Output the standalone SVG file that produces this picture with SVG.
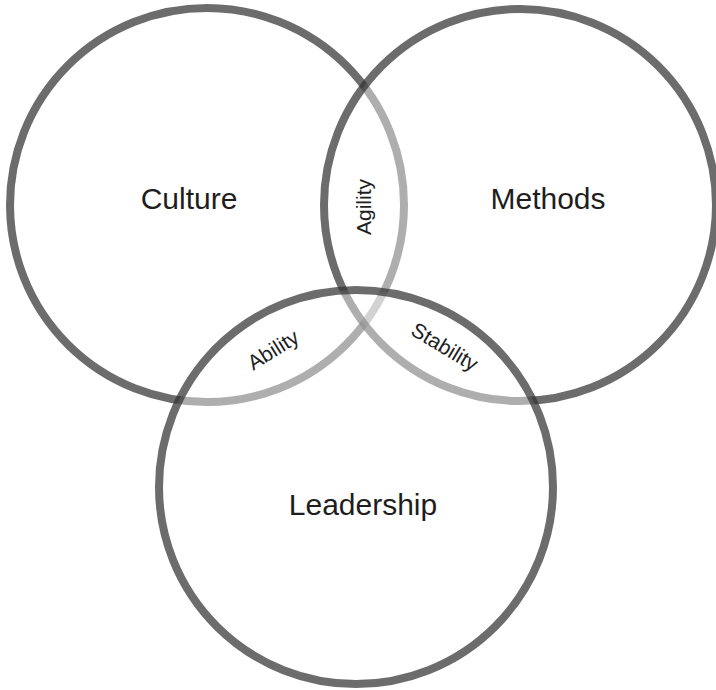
<svg xmlns="http://www.w3.org/2000/svg" width="716" height="690" viewBox="0 0 716 690">
  <style>
    /* each ring: translucent white fill softens the rings drawn beneath it */
    .ring { fill: #ffffff; fill-opacity: 0.45; stroke: #333333; stroke-opacity: 0.72; stroke-width: 8; }
    .label { font-family: "Liberation Sans", Arial, sans-serif; fill: #1e1e1e; text-anchor: middle; }
    .main { font-size: 30px; }
    .overlap { font-size: 21px; }
  </style>
  <rect width="716" height="690" fill="#ffffff"/>

  <g id="culture">
    <circle class="ring" cx="207" cy="205" r="197"/>
  </g>
  <g id="methods">
    <circle class="ring" cx="520" cy="205" r="196"/>
  </g>
  <g id="leadership">
    <circle class="ring" cx="356" cy="487" r="197"/>
  </g>

  <g id="labels">
    <text class="label main" x="189" y="209">Culture</text>
    <text class="label main" x="548" y="209">Methods</text>
    <text class="label main" x="363" y="515">Leadership</text>
  </g>

  <g id="overlaps">
    <text class="label overlap" transform="translate(371,207) rotate(-90)">Agility</text>
    <text class="label overlap" transform="translate(277,356) rotate(-32)">Ability</text>
    <text class="label overlap" transform="translate(441,353) rotate(31)">Stability</text>
  </g>
</svg>
